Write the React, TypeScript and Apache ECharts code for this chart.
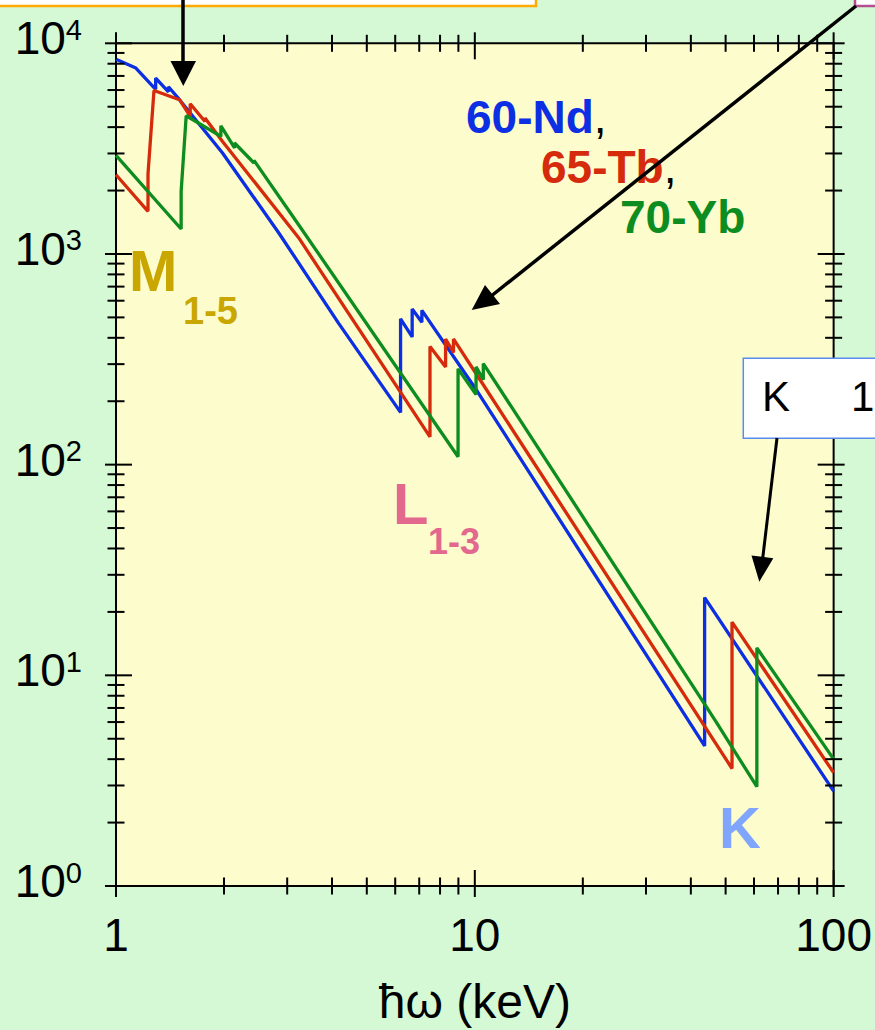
import React, { useEffect, useRef } from 'react';
import * as echarts from 'echarts';

const FONT = '"Liberation Sans", Arial, Helvetica, sans-serif';

// Absorption curves: [photon energy (keV), value]; repeated energies are the edge jumps
const ndPoints: [number, number][] = [
  [1.0, 8400], [1.136, 7630], [1.29, 6050], [1.29, 6840], [1.4, 5885], [1.4, 6220],
  [1.503, 5400], [1.981, 3015], [2.843, 1258], [4.165, 471], [6.21, 177], [6.21, 492],
  [6.69, 404], [6.69, 548], [7.12, 474], [7.12, 540], [10.16, 223], [43.7, 4.62],
  [43.7, 23.4], [100, 2.82],
];
const tbPoints: [number, number][] = [
  [1.0, 2378], [1.228, 1593], [1.228, 2400], [1.276, 5970], [1.503, 5400], [1.61, 4495],
  [1.61, 5165], [1.77, 4256], [1.77, 4418], [1.981, 3420], [3.228, 1195], [7.5, 135.5],
  [7.5, 364], [8.29, 291], [8.29, 395], [8.72, 341], [8.72, 395], [10.16, 265],
  [52.1, 3.61], [52.1, 17.9], [100, 3.45],
];
const ybPoints: [number, number][] = [
  [1.0, 2936], [1.519, 1314], [1.519, 1982], [1.569, 4530], [1.96, 3614], [1.96, 4060],
  [2.14, 3185], [2.14, 3363], [2.424, 2703], [2.424, 2780], [3.228, 1377], [8.98, 109],
  [8.98, 285], [10.08, 215], [10.08, 291], [10.56, 253], [10.56, 302], [46.9, 6.06],
  [61.1, 2.96], [61.1, 13.5], [100, 4.0],
];

const seriesNames = ['60-Nd', '65-Tb', '70-Yb'];
const seriesColors = ['#0c2fe3', '#d62a0c', '#0d8c1f'];

// Axis ranges and tick positions
const X_MIN = 1;
const X_MAX = 100;
const Y_MIN = 1;
const Y_MAX = 10000;
const xMajorTicks = [1, 10, 100];
const xMinorTicks = [2, 3, 4, 5, 6, 7, 8, 9, 20, 30, 40, 50, 60, 70, 80, 90];
const yMajorTicks = [1, 10, 100, 1000, 10000];
const yMinorTicks = [
  2, 3, 4, 5, 6, 7, 8, 9,
  20, 30, 40, 50, 60, 70, 80, 90,
  200, 300, 400, 500, 600, 700, 800, 900,
  2000, 3000, 4000, 5000, 6000, 7000, 8000, 9000,
];

// [x, y, kind (0 = x tick, 1 = y tick), major]
const tickData: number[][] = [
  ...xMajorTicks.map((v) => [v, Y_MIN, 0, 1]),
  ...xMinorTicks.map((v) => [v, Y_MIN, 0, 0]),
  ...yMajorTicks.map((v) => [X_MIN, v, 1, 1]),
  ...yMinorTicks.map((v) => [X_MIN, v, 1, 0]),
];

const BG = '#d4f9d4';
const PLOT_BG = '#fcfccc';

export default function App() {
  const ref = useRef<HTMLDivElement>(null);

  useEffect(() => {
    document.body.style.margin = '0';
    if (!ref.current) return;
    const chart = echarts.init(ref.current, undefined, { renderer: 'svg' });

    const tickStyle = { stroke: '#000', lineWidth: 2 };

    // ticks cross the frame on all four sides
    const renderTick = (params: any, api: any) => {
      const kind = api.value(2);
      const major = api.value(3) === 1;
      const inner = major ? 16 : 8.5;
      const outer = major ? 11 : 8.5;
      if (kind === 0) {
        const v = api.value(0);
        const b = api.coord([v, Y_MIN]);
        const t = api.coord([v, Y_MAX]);
        return {
          type: 'group',
          children: [
            { type: 'line', shape: { x1: b[0], y1: b[1] - inner, x2: b[0], y2: b[1] + outer }, style: tickStyle },
            { type: 'line', shape: { x1: t[0], y1: t[1] - outer, x2: t[0], y2: t[1] + inner }, style: tickStyle },
          ],
        };
      }
      const v = api.value(1);
      const l = api.coord([X_MIN, v]);
      const r = api.coord([X_MAX, v]);
      return {
        type: 'group',
        children: [
          { type: 'line', shape: { x1: l[0] - outer, y1: l[1], x2: l[0] + inner, y2: l[1] }, style: tickStyle },
          { type: 'line', shape: { x1: r[0] - inner, y1: r[1], x2: r[0] + outer, y2: r[1] }, style: tickStyle },
        ],
      };
    };

    const lineSeries = [ndPoints, tbPoints, ybPoints].map((pts, i) => ({
      type: 'line',
      name: seriesNames[i],
      data: pts,
      showSymbol: false,
      symbol: 'none',
      lineStyle: { color: seriesColors[i], width: 3.3 },
      itemStyle: { color: seriesColors[i] },
      z: 3,
    }));

    const boldText = (text: string, x: number, y: number, size: number, color: string) => ({
      type: 'text',
      x,
      y,
      style: {
        text,
        fill: color,
        fontSize: size,
        fontWeight: 'bold',
        fontFamily: FONT,
        align: 'left',
        verticalAlign: 'middle',
      },
      z: 10,
    });

    const elementLabel = (name: string, comma: boolean, x: number, y: number, color: string) => ({
      type: 'text',
      x,
      y,
      style: {
        text: comma ? `{a|${name}}{c|,}` : `{a|${name}}`,
        fontSize: 46,
        fontWeight: 'bold',
        fontFamily: FONT,
        align: 'left',
        verticalAlign: 'middle',
        rich: {
          a: { fill: color, fontSize: 46, fontWeight: 'bold', fontFamily: FONT },
          c: { fill: '#000', fontSize: 46, fontWeight: 'normal', fontFamily: FONT },
        },
      },
      z: 10,
    });

    chart.setOption({
      animation: false,
      backgroundColor: BG,
      grid: {
        left: 116,
        top: 43.3,
        width: 723,
        height: 843.4,
        show: true,
        backgroundColor: PLOT_BG,
        borderColor: '#000',
        borderWidth: 2,
      },
      xAxis: {
        type: 'log',
        logBase: 10,
        min: X_MIN,
        max: X_MAX,
        axisLine: { show: false },
        axisTick: { show: false },
        splitLine: { show: false },
        axisLabel: {
          margin: 26,
          fontSize: 46,
          fontFamily: FONT,
          color: '#000',
          showMinLabel: true,
          showMaxLabel: true,
          formatter: (v: number) => String(Math.round(v)),
        },
        name: 'ħω (keV)',
        nameLocation: 'middle',
        nameGap: 91,
        nameTextStyle: { fontSize: 48, fontFamily: FONT, color: '#000' },
      },
      yAxis: {
        type: 'log',
        logBase: 10,
        min: Y_MIN,
        max: Y_MAX,
        axisLine: { show: false },
        axisTick: { show: false },
        splitLine: { show: false },
        axisLabel: {
          margin: 34,
          padding: [0, 0, 10, 0],
          showMinLabel: true,
          showMaxLabel: true,
          formatter: (v: number) => `{b|10}{s|${Math.round(Math.log10(v))}}`,
          rich: {
            b: { fontSize: 46, fontFamily: FONT, color: '#000', lineHeight: 46 },
            s: { fontSize: 29, fontFamily: FONT, color: '#000', verticalAlign: 'top', lineHeight: 29 },
          },
        },
      },
      series: [
        ...lineSeries,
        {
          type: 'custom',
          coordinateSystem: 'cartesian2d',
          data: tickData,
          encode: { x: 0, y: 1 },
          renderItem: renderTick,
          clip: false,
          silent: true,
          z: 5,
        },
      ],
      graphic: [
        // boxes cut off at the top edge
        { type: 'rect', shape: { x: -10, y: -60, width: 546, height: 66 }, style: { fill: '#fff', stroke: '#ffaa00', lineWidth: 2.5 }, z: 20 },
        { type: 'rect', shape: { x: 855, y: -60, width: 60, height: 66 }, style: { fill: '#fff', stroke: '#b24e91', lineWidth: 2.5 }, z: 20 },
        // arrow to the M edges
        { type: 'line', shape: { x1: 183, y1: 0, x2: 183, y2: 66 }, style: { stroke: '#000', lineWidth: 3.5 }, z: 20 },
        { type: 'polygon', shape: { points: [[170.5, 61], [196, 61], [183.3, 86]] }, style: { fill: '#000' }, z: 20 },
        // arrow to the L edges
        { type: 'line', shape: { x1: 856, y1: 6, x2: 490, y2: 297 }, style: { stroke: '#000', lineWidth: 3.5 }, z: 20 },
        { type: 'polygon', shape: { points: [[471.7, 310], [485, 285], [500, 304]] }, style: { fill: '#000' }, z: 20 },
        // K box and arrow
        { type: 'rect', shape: { x: 743.3, y: 358.3, width: 160, height: 80 }, style: { fill: '#fff', stroke: '#5a8cf0', lineWidth: 1.5 }, z: 20 },
        { type: 'text', x: 762, y: 396, style: { text: 'K', fill: '#000', fontSize: 42, fontFamily: FONT, align: 'left', verticalAlign: 'middle' }, z: 21 },
        { type: 'text', x: 851, y: 396, style: { text: '1', fill: '#000', fontSize: 42, fontFamily: FONT, align: 'left', verticalAlign: 'middle' }, z: 21 },
        { type: 'line', shape: { x1: 777, y1: 438, x2: 762.5, y2: 560 }, style: { stroke: '#000', lineWidth: 3 }, z: 20 },
        { type: 'polygon', shape: { points: [[759.3, 581.7], [751.5, 555.6], [773.3, 558.2]] }, style: { fill: '#000' }, z: 20 },
        // element labels
        elementLabel('60-Nd', true, 466, 117, seriesColors[0]),
        elementLabel('65-Tb', true, 541, 167, seriesColors[1]),
        elementLabel('70-Yb', false, 620, 217, seriesColors[2]),
        // edge labels
        boldText('M', 129, 270, 58, '#c9a600'),
        boldText('1-5', 183, 311, 38, '#c9a600'),
        boldText('L', 393, 503, 58, '#e2688e'),
        boldText('1-3', 428, 541, 36, '#e2688e'),
        boldText('K', 719, 827, 58, '#7fa6fc'),
      ],
    });

    return () => chart.dispose();
  }, []);

  return <div ref={ref} style={{ width: 875, height: 1030 }} />;
}
